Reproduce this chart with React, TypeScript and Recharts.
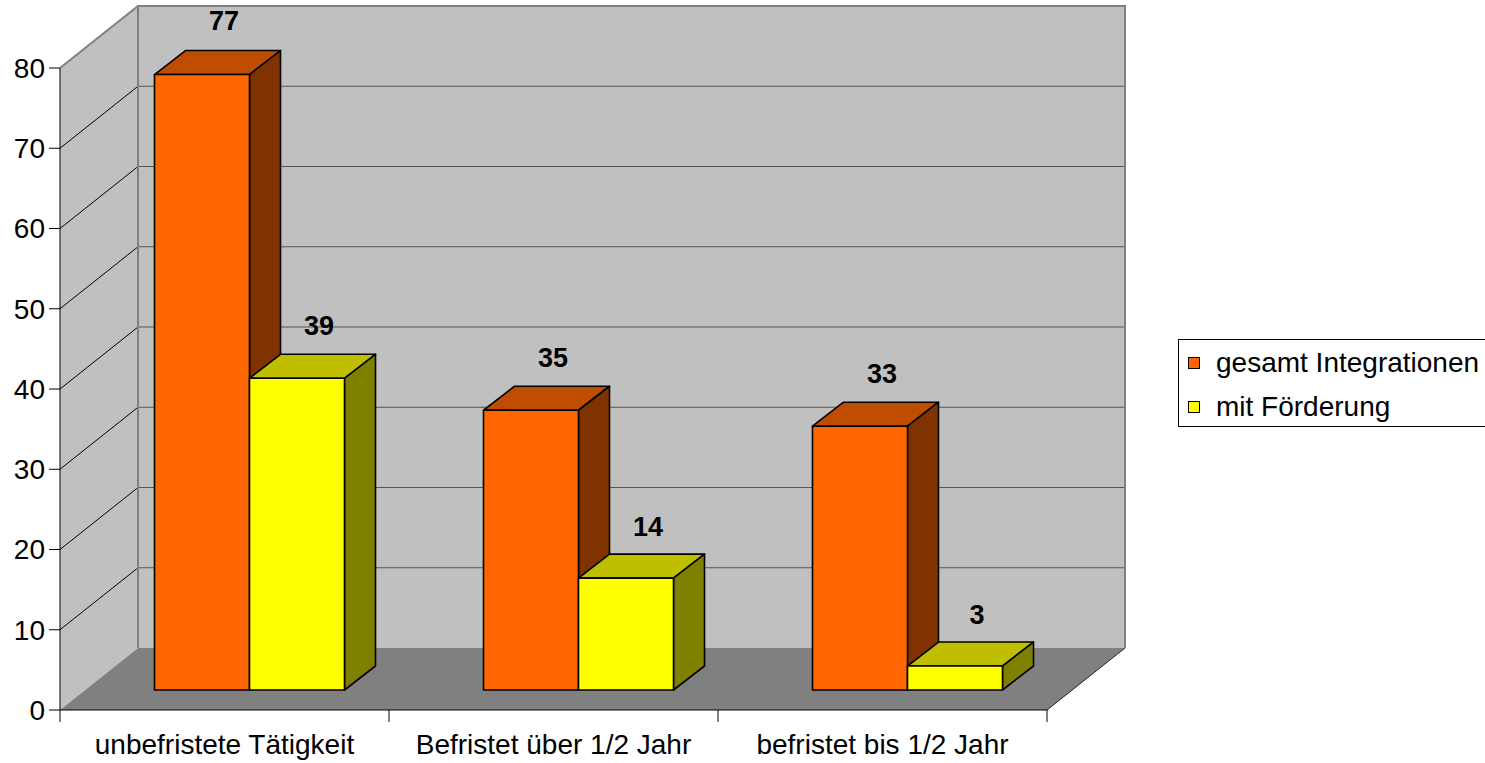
import { BarChart, Bar, XAxis, YAxis, ReferenceArea, LabelList } from "recharts"

const categories = ["unbefristete Tätigkeit", "Befristet über 1/2 Jahr", "befristet bis 1/2 Jahr"]
const gesamtIntegrationen = [77, 35, 33]
const mitFoerderung = [39, 14, 3]
const yTicks = [0, 10, 20, 30, 40, 50, 60, 70, 80]

const data = categories.map((name, i) => ({
  name,
  gesamt: gesamtIntegrationen[i],
  foerderung: mitFoerderung[i],
}))

const series = [
  { key: "gesamt", name: "gesamt Integrationen", front: "#ff6600", top: "#bf4d00", side: "#803300" },
  { key: "foerderung", name: "mit Förderung", front: "#ffff00", top: "#bfbf00", side: "#808000" },
]

const FONT = '"Liberation Sans", Arial, sans-serif'
const FONT_SIZE = 28

// oblique projection: back wall offset, front plane of the bars, depth of one bar
const WALL_DX = 78
const WALL_DY = -62
const BAR_DX = 24.5
const BAR_DY = -20
const BAR_SCALE = 0.996 // bars sit a bit deeper, so slightly shorter than the front axis
const BOX_DX = 31
const BOX_DY = -24

function Room(props: any) {
  const { x, y, width, height } = props
  const bottom = y + height
  const yMax = yTicks[yTicks.length - 1]
  const toY = (v: number) => bottom - (v / yMax) * height
  const bx = x + WALL_DX
  const by = y + WALL_DY
  const bBottom = by + height
  const inner = yTicks.filter((v) => v > 0 && v < yMax)
  return (
    <g>
      <polygon points={`${x},${y} ${bx},${by} ${bx},${bBottom} ${x},${bottom}`} fill="#c0c0c0" />
      <rect x={bx} y={by} width={width} height={height} fill="#c0c0c0" />
      <polygon
        points={`${x},${bottom} ${x + width},${bottom} ${bx + width},${bBottom} ${bx},${bBottom}`}
        fill="#808080"
      />
      {inner.map((v) => (
        <line key={`b${v}`} x1={bx} x2={bx + width} y1={toY(v) + WALL_DY} y2={toY(v) + WALL_DY} stroke="#555" strokeWidth={1.2} />
      ))}
      {inner.map((v) => (
        <line key={`s${v}`} x1={x} y1={toY(v)} x2={bx} y2={toY(v) + WALL_DY} stroke="#000" strokeWidth={1} />
      ))}
      <polyline
        points={`${x},${y} ${bx},${by} ${bx + width},${by} ${bx + width},${bBottom}`}
        fill="none"
        stroke="#808080"
        strokeWidth={2}
      />
      <line x1={bx} y1={by} x2={bx} y2={bBottom} stroke="#808080" strokeWidth={2} />
      <line x1={x + width} y1={bottom} x2={bx + width} y2={bBottom} stroke="#222" strokeWidth={1} />
      {categories.map((_, i) => (
        <line
          key={`t${i}`}
          x1={x + (i * width) / categories.length}
          x2={x + (i * width) / categories.length}
          y1={bottom}
          y2={bottom + 12}
          stroke="#000"
        />
      ))}
      <line x1={x + width} x2={x + width} y1={bottom} y2={bottom + 12} stroke="#000" />
    </g>
  )
}

const makeBox = (s: (typeof series)[number]) => (props: any) => {
  const { x, y, width, height } = props
  if (height == null || width == null) return <g />
  const h = height * BAR_SCALE
  const fx = x + BAR_DX
  const b = y + height + BAR_DY
  const fy = b - h
  const r = fx + width
  return (
    <g stroke="#000" strokeWidth={1.6} strokeLinejoin="round">
      <polygon points={`${fx},${fy} ${r},${fy} ${r + BOX_DX},${fy + BOX_DY} ${fx + BOX_DX},${fy + BOX_DY}`} fill={s.top} />
      <polygon points={`${r},${fy} ${r + BOX_DX},${fy + BOX_DY} ${r + BOX_DX},${b + BOX_DY} ${r},${b}`} fill={s.side} />
      <rect x={fx} y={fy} width={width} height={h} fill={s.front} />
    </g>
  )
}

function ValueLabel(props: any) {
  const vb = props.viewBox || {}
  const x = props.x ?? vb.x
  const y = props.y ?? vb.y
  const w = props.width ?? vb.width
  return (
    <text
      x={x + w / 2 + BAR_DX + 22}
      y={y + BAR_DY - 42}
      textAnchor="middle"
      fontFamily={FONT}
      fontSize={27}
      fontWeight="bold"
      fill="#000"
    >
      {props.value}
    </text>
  )
}

export default function App() {
  return (
    <div style={{ position: "absolute", left: 0, top: 0, width: 1485, height: 763, overflow: "hidden", background: "#fff" }}>
      <BarChart
        width={1485}
        height={763}
        data={data}
        margin={{ top: 68, right: 438, bottom: 0, left: 0 }}
        barCategoryGap={70}
        barGap={0}
        style={{ fontFamily: FONT }}
      >
        <ReferenceArea y1={0} y2={80} ifOverflow="visible" shape={(p: any) => <Room {...p} />} />
        <XAxis
          dataKey="name"
          height={53}
          interval={0}
          axisLine={{ stroke: "#000" }}
          tickLine={false}
          tickSize={12}
          tickMargin={12}
          tick={{ fontSize: FONT_SIZE, fill: "#000", fontFamily: FONT }}
        />
        <YAxis
          width={60}
          domain={[0, 80]}
          ticks={yTicks}
          interval={0}
          axisLine={{ stroke: "#000" }}
          tickLine={{ stroke: "#000" }}
          tickSize={11}
          tickMargin={4}
          tick={{ fontSize: FONT_SIZE, fill: "#000", fontFamily: FONT }}
        />
        {series.map((s) => (
          <Bar key={s.key} dataKey={s.key} name={s.name} isAnimationActive={false} shape={makeBox(s)}>
            <LabelList dataKey={s.key} content={ValueLabel} />
          </Bar>
        ))}
      </BarChart>
      <div
        style={{
          position: "absolute",
          left: 1178,
          top: 339,
          width: 340,
          height: 88,
          border: "1px solid #000",
          boxSizing: "border-box",
          background: "#fff",
          fontFamily: FONT,
          fontSize: FONT_SIZE,
        }}
      >
        {series.map((s, i) => (
          <div
            key={s.key}
            style={{
              position: "absolute",
              left: 9,
              top: 8 + i * 44,
              height: 30,
              display: "flex",
              alignItems: "center",
              whiteSpace: "nowrap",
            }}
          >
            <span
              style={{
                width: 10,
                height: 10,
                border: "1px solid #000",
                background: s.front,
                marginRight: 16,
                display: "inline-block",
              }}
            />
            {s.name}
          </div>
        ))}
      </div>
    </div>
  )
}
